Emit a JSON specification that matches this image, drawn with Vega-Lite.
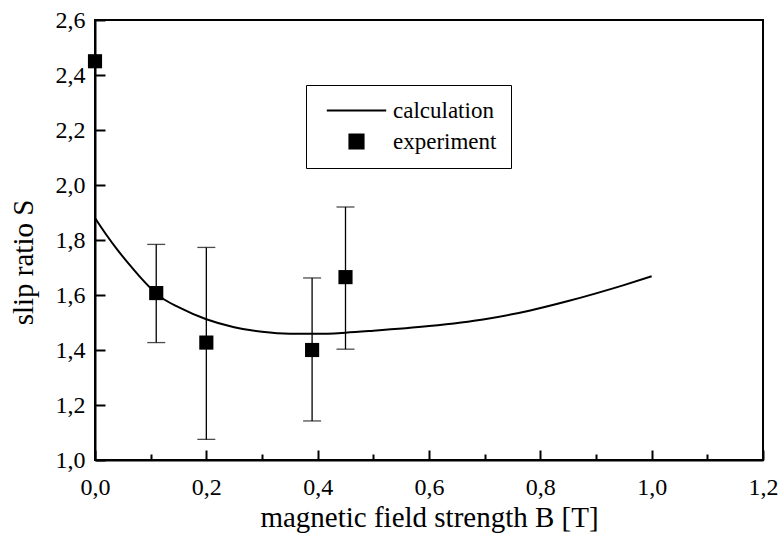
{
  "$schema": "https://vega.github.io/schema/vega-lite/v6.json",
  "width": 668,
  "height": 440,
  "autosize": {"type": "none"},
  "padding": {"left": 95, "top": 20, "right": 21, "bottom": 80},
  "background": "white",
  "config": {
    "font": "Liberation Serif",
    "view": {"stroke": "black", "strokeWidth": 2},
    "axis": {
      "domainColor": "black", "domainWidth": 2,
      "tickColor": "black", "tickWidth": 2,
      "labelColor": "black", "titleColor": "black",
      "labelFont": "Liberation Serif", "titleFont": "Liberation Serif",
      "labelFontSize": 24, "titleFontSize": 29, "titleFontWeight": "normal",
      "grid": false, "labelFlush": false, "labelOverlap": false
    }
  },
  "datasets": {
    "curve": [
      {"B": 0.0, "S": 1.88, "series": "calculation"},
      {"B": 0.02, "S": 1.82, "series": "calculation"},
      {"B": 0.04, "S": 1.765, "series": "calculation"},
      {"B": 0.06, "S": 1.715, "series": "calculation"},
      {"B": 0.08, "S": 1.668, "series": "calculation"},
      {"B": 0.1, "S": 1.625, "series": "calculation"},
      {"B": 0.12, "S": 1.59, "series": "calculation"},
      {"B": 0.15, "S": 1.556, "series": "calculation"},
      {"B": 0.2, "S": 1.512, "series": "calculation"},
      {"B": 0.25, "S": 1.483, "series": "calculation"},
      {"B": 0.3, "S": 1.466, "series": "calculation"},
      {"B": 0.35, "S": 1.459, "series": "calculation"},
      {"B": 0.4, "S": 1.459, "series": "calculation"},
      {"B": 0.45, "S": 1.463, "series": "calculation"},
      {"B": 0.5, "S": 1.47, "series": "calculation"},
      {"B": 0.6, "S": 1.487, "series": "calculation"},
      {"B": 0.7, "S": 1.512, "series": "calculation"},
      {"B": 0.78, "S": 1.543, "series": "calculation"},
      {"B": 0.85, "S": 1.578, "series": "calculation"},
      {"B": 0.9, "S": 1.606, "series": "calculation"},
      {"B": 0.95, "S": 1.636, "series": "calculation"},
      {"B": 1.0, "S": 1.668, "series": "calculation"}
    ],
    "points": [
      {"B": 0.0, "S": 2.45, "lo": null, "hi": null, "series": "experiment"},
      {"B": 0.11, "S": 1.607, "lo": 1.427, "hi": 1.784, "series": "experiment"},
      {"B": 0.2, "S": 1.427, "lo": 1.075, "hi": 1.773, "series": "experiment"},
      {"B": 0.39, "S": 1.4, "lo": 1.142, "hi": 1.662, "series": "experiment"},
      {"B": 0.45, "S": 1.665, "lo": 1.403, "hi": 1.92, "series": "experiment"}
    ]
  },
  "layer": [
    {
      "data": {"name": "curve"},
      "mark": {"type": "line", "strokeWidth": 2, "interpolate": "monotone"},
      "encoding": {
        "x": {
          "field": "B", "type": "quantitative",
          "scale": {"domain": [0, 1.2], "nice": false, "zero": false},
          "axis": {
            "values": [0, 0.1, 0.2, 0.3, 0.4, 0.5, 0.6, 0.7, 0.8, 0.9, 1.0, 1.1, 1.2],
            "labelExpr": "round(datum.value*10)%2==0 ? replace(format(datum.value,'.1f'),'.',',') : ''",
            "tickSize": {"condition": {"test": "round(datum.value*10)%2==1", "value": -6}, "value": -10},
            "labelPadding": 25,
            "title": "magnetic field strength B [T]",
            "titlePadding": 0
          }
        },
        "y": {
          "field": "S", "type": "quantitative",
          "scale": {"domain": [1.0, 2.6], "nice": false, "zero": false},
          "axis": {
            "values": [1.0, 1.1, 1.2, 1.3, 1.4, 1.5, 1.6, 1.7, 1.8, 1.9, 2.0, 2.1, 2.2, 2.3, 2.4, 2.5, 2.6],
            "labelExpr": "round(datum.value*10)%2==0 ? replace(format(datum.value,'.1f'),'.',',') : ''",
            "tickSize": {"condition": {"test": "round(datum.value*10)%2==1", "value": -6}, "value": -10},
            "labelPadding": 20,
            "title": "slip ratio S",
            "titlePadding": 17,
            "titleY": 242
          }
        },
        "color": {
          "field": "series", "type": "nominal",
          "scale": {"domain": ["calculation", "experiment"], "range": ["black", "black"]},
          "legend": {
            "title": null,
            "orient": "none",
            "legendX": 211,
            "legendY": 65,
            "padding": 14,
            "strokeColor": "black",
            "fillColor": "white",
            "labelFont": "Liberation Serif",
            "labelFontSize": 23,
            "labelColor": "black",
            "symbolSize": 200,
            "symbolOffset": 25,
            "labelOffset": 25,
            "rowPadding": 7,
            "symbolStrokeColor": "black",
            "symbolStrokeWidth": 2,
            "symbolFillColor": "black"
          }
        }
      }
    },
    {
      "data": {"name": "points"},
      "mark": {"type": "errorbar", "ticks": {"size": 18}, "color": "black", "thickness": 1.3},
      "encoding": {
        "x": {"field": "B", "type": "quantitative"},
        "y": {"field": "lo", "type": "quantitative", "title": "slip ratio S"},
        "y2": {"field": "hi"}
      }
    },
    {
      "data": {"name": "points"},
      "mark": {"type": "point", "filled": true, "opacity": 1, "size": 200},
      "encoding": {
        "x": {"field": "B", "type": "quantitative"},
        "y": {"field": "S", "type": "quantitative", "title": "slip ratio S"},
        "color": {"field": "series", "type": "nominal"},
        "shape": {
          "field": "series", "type": "nominal",
          "scale": {"domain": ["calculation", "experiment"], "range": ["M-4.2,0H4.2", "M-1,-1H1V1H-1Z"]}
        }
      }
    }
  ]
}
